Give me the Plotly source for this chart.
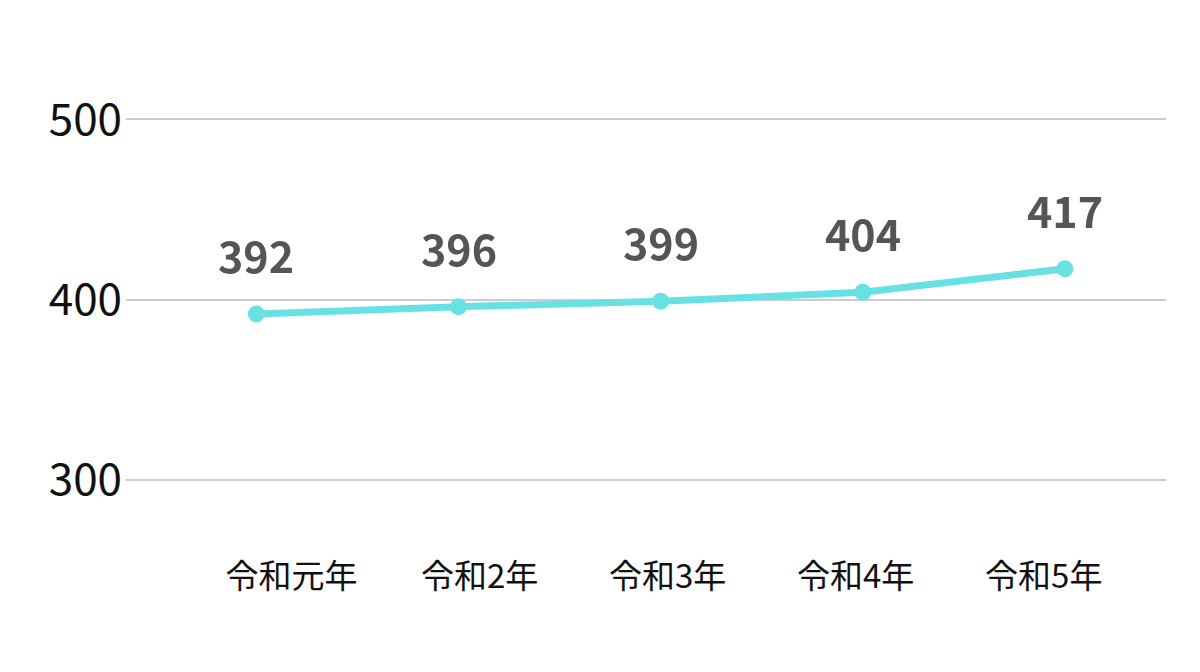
import plotly.graph_objects as go

years = ["令和元年", "令和2年", "令和3年", "令和4年", "令和5年"]
values = [392, 396, 399, 404, 417]
y_ticks = [300, 400, 500]

font_jp = "Noto Sans CJK JP"

fig = go.Figure()
fig.add_trace(go.Scatter(
    x=years, y=values,
    mode="lines+markers",
    line=dict(color="#68E1E4", width=7),
    marker=dict(color="#68E1E4", size=17),
    hoverinfo="skip",
))
# the year labels sit on their own axis, a bit offset from the points
fig.add_trace(go.Scatter(
    x=years, y=values, xaxis="x2",
    mode="markers", opacity=0, hoverinfo="skip",
))

# value labels above each point
for yr, v in zip(years, values):
    fig.add_annotation(
        x=yr, y=v, text=f"<b>{v}</b>", showarrow=False,
        yshift=60, font=dict(family=font_jp, size=43, color="#555555"),
    )

fig.update_layout(
    width=1200, height=672,
    margin=dict(l=118, r=42, t=57, b=146),
    paper_bgcolor="white", plot_bgcolor="white",
    showlegend=False,
    font=dict(family=font_jp),
    xaxis=dict(
        type="category", range=[-0.645, 4.5],
        showgrid=False, showline=False, zeroline=False, ticks="",
        showticklabels=False,
    ),
    xaxis2=dict(
        type="category", range=[-0.88, 4.65],
        overlaying="x", side="bottom", anchor="y",
        showgrid=False, showline=False, zeroline=False, ticks="",
        tickfont=dict(family=font_jp, size=33, color="#111111"),
        ticklabelstandoff=20,
    ),
)
fig.update_yaxes(
    range=[270, 530], tickvals=y_ticks,
    showgrid=True, gridcolor="#CCCCCC", gridwidth=2,
    zeroline=False, showline=False, ticks="",
    tickfont=dict(family=font_jp, size=44, color="#111111"),
    ticklabelstandoff=3,
)

fig.write_html("out.html")
